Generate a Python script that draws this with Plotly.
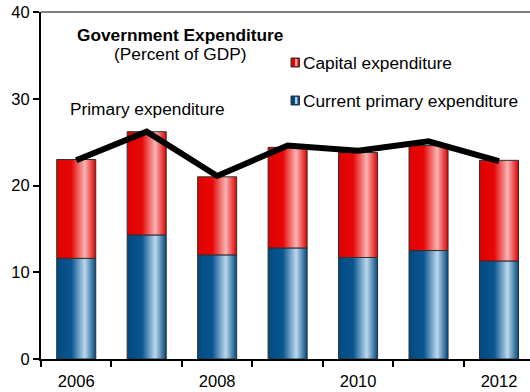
import plotly.graph_objects as go

# Government expenditure, percent of GDP
years = [2006, 2007, 2008, 2009, 2010, 2011, 2012]
current_primary = [11.6, 14.3, 12.0, 12.8, 11.7, 12.5, 11.3]
capital = [11.4, 11.9, 9.0, 11.6, 12.1, 12.1, 11.6]
primary = [22.9, 26.2, 21.1, 24.6, 24.0, 25.1, 22.8]

series_names = ["Current primary expenditure", "Capital expenditure"]
tick_years = [2006, 2008, 2010, 2012]

FONT = "Liberation Sans, Arial, sans-serif"
BAR_HALF = 0.277
TEXT_SIZE = 17.3

BLUE_SCALE = [[0.0, "#004a80"], [0.38, "#0a5690"], [0.72, "#bcd8ee"], [1.0, "#004a80"]]
RED_SCALE = [[0.0, "#e00000"], [0.38, "#e60808"], [0.72, "#f8b4b4"], [1.0, "#e00000"]]

fig = go.Figure()


def add_segment(x, base, height, scale, name):
    """One stacked bar segment, drawn as a filled rectangle with a horizontal gradient."""
    x0, x1 = x - BAR_HALF, x + BAR_HALF
    y0, y1 = base, base + height
    fig.add_trace(go.Scatter(
        x=[x0, x1, x1, x0, x0],
        y=[y0, y0, y1, y1, y0],
        mode="lines",
        fill="toself",
        fillgradient=dict(type="horizontal", colorscale=scale),
        line=dict(color="#303030", width=1),
        name=name,
        showlegend=False,
        hoverinfo="skip",
    ))


for yr, cur, cap in zip(years, current_primary, capital):
    add_segment(yr, 0, cur, BLUE_SCALE, series_names[0])
    add_segment(yr, cur, cap, RED_SCALE, series_names[1])

fig.add_trace(go.Scatter(
    x=years,
    y=primary,
    mode="lines",
    line=dict(color="black", width=6),
    name="Primary expenditure",
    showlegend=False,
))

W, H = 530, 392
ML, MR, MT, MB = 41, 0, 12, 33
PW, PH = W - ML - MR, H - MT - MB


def px(xp):
    return (xp - ML) / PW


def py(yp):
    return 1 - (yp - MT) / PH


annotations = [
    dict(text="<b>Government Expenditure</b>", x=px(180), y=py(35)),
    dict(text="(Percent of GDP)", x=px(180), y=py(54)),
    dict(text="Primary expenditure", x=px(68), y=py(109), xanchor="left"),
    dict(text="Capital expenditure", x=px(301), y=py(63), xanchor="left"),
    dict(text="Current primary expenditure", x=px(301), y=py(101), xanchor="left"),
]
for a in annotations:
    fig.add_annotation(
        text=a["text"], x=a["x"], y=a["y"], xref="paper", yref="paper",
        xanchor=a.get("xanchor", "center"), yanchor="middle",
        showarrow=False, font=dict(family=FONT, size=TEXT_SIZE, color="black"),
    )

# legend swatches
shapes = []
for yc, base_col, light_col in [(62.5, "#e00000", "#f6a8a8"), (100.5, "#004a80", "#b0d0ea")]:
    shapes.append(dict(type="rect", xref="paper", yref="paper",
                       x0=px(291), x1=px(299.5), y0=py(yc + 4.5), y1=py(yc - 4.5),
                       fillcolor=base_col, line=dict(color="#303030", width=1)))
    shapes.append(dict(type="rect", xref="paper", yref="paper",
                       x0=px(295), x1=px(297.5), y0=py(yc + 3.5), y1=py(yc - 3.5),
                       fillcolor=light_col, line=dict(width=0)))
# top frame line
shapes.append(dict(type="line", xref="paper", yref="paper", x0=0, x1=1, y0=1, y1=1,
                   line=dict(color="black", width=1)))

fig.update_layout(
    width=W, height=H,
    margin=dict(l=ML, r=MR, t=MT, b=MB),
    paper_bgcolor="white", plot_bgcolor="white",
    showlegend=False,
    shapes=shapes,
    font=dict(family=FONT, size=16.5, color="black"),
    xaxis=dict(
        range=[2005.5, 2012.44],
        tickmode="array", tickvals=tick_years, ticktext=[str(y) for y in tick_years],
        ticks="outside", ticklen=6, tickcolor="rgba(0,0,0,0)",
        minor=dict(tick0=2005.5, dtick=1, ticks="outside", ticklen=6, tickwidth=2,
                   tickcolor="black"),
        showline=True, linecolor="black", linewidth=2,
        showgrid=False, zeroline=False,
        tickfont=dict(family=FONT, size=16.5, color="black"),
    ),
    yaxis=dict(
        range=[0, 40], tickvals=[0, 10, 20, 30, 40],
        ticks="outside", ticklen=6, tickwidth=2, tickcolor="black",
        showline=True, linecolor="black", linewidth=2,
        showgrid=False, zeroline=False,
        tickfont=dict(family=FONT, size=16.5, color="black"),
    ),
)

fig.write_html("out.html")
